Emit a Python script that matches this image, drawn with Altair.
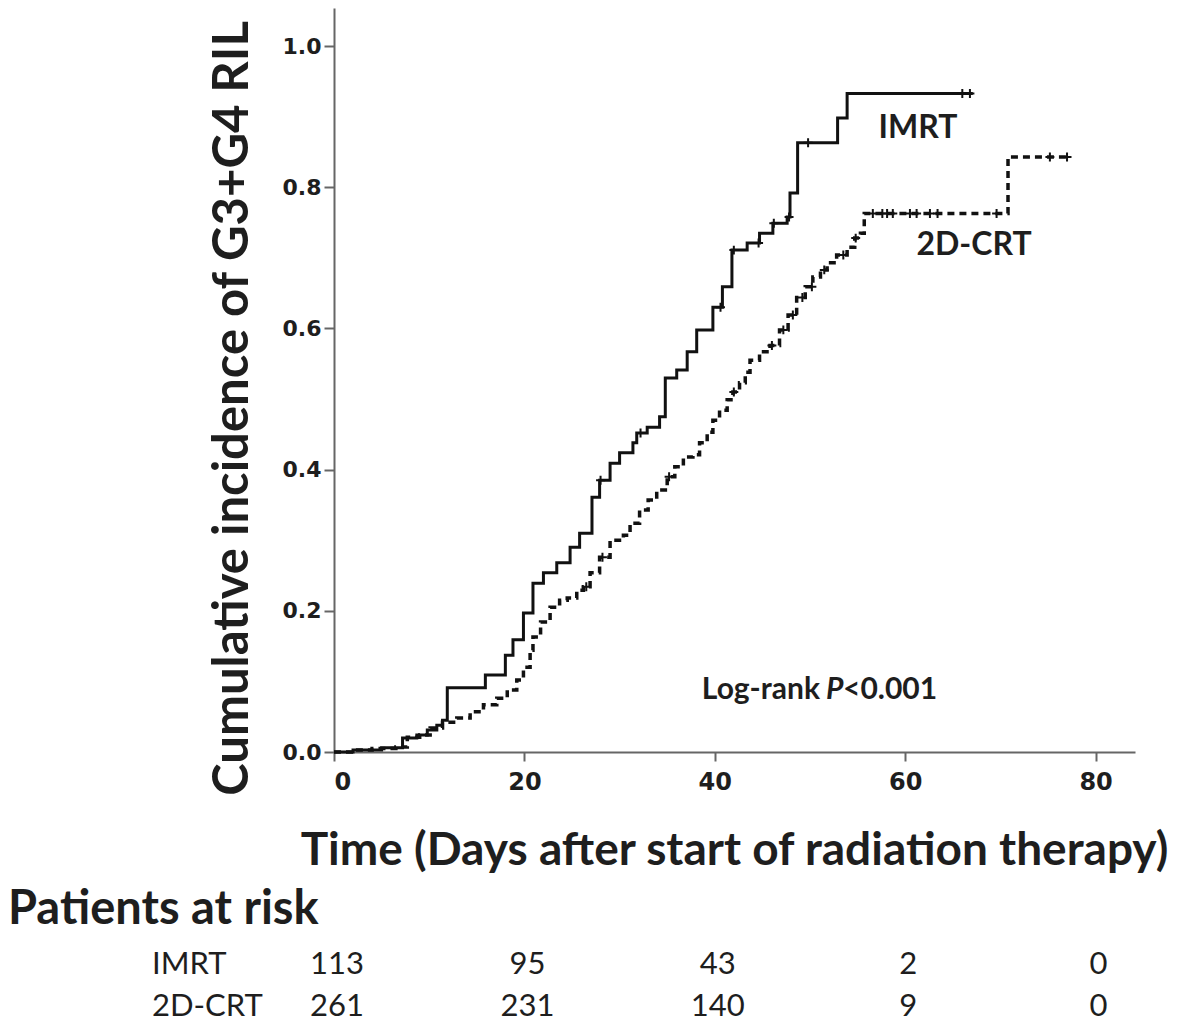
import altair as alt
import pandas as pd
import numpy as np

# ---- data ----
imrt_time = [0, 2, 5, 7.2, 8.7, 9.8, 10.8, 11.4, 11.9, 15.9, 18.0, 18.8, 19.9, 20.9, 22.0,
             23.4, 24.8, 25.8, 27.1, 27.9, 29.0, 30.0, 31.4, 31.8, 32.9, 34.2, 34.8, 36.0,
             37.1, 38.1, 39.8, 40.8, 41.8, 43.4, 44.7, 46.1, 47.6, 47.9, 48.7, 52.9, 53.9, 67.1]
imrt_cum = [0, 0.003, 0.006, 0.02, 0.024, 0.031, 0.038, 0.045, 0.091, 0.109, 0.137, 0.159,
            0.197, 0.239, 0.254, 0.268, 0.29, 0.31, 0.361, 0.385, 0.409, 0.424, 0.438, 0.452,
            0.46, 0.475, 0.53, 0.541, 0.567, 0.598, 0.63, 0.659, 0.711, 0.721, 0.735, 0.749,
            0.758, 0.792, 0.863, 0.898, 0.933, 0.933]

crt_time = [0, 2, 4, 6.5, 7.7, 9.0, 10.1, 11.4, 12.9, 14.3, 15.7, 17.1, 18.2, 19.2, 19.9,
            20.6, 20.9, 21.7, 22.7, 23.7, 24.5, 25.5, 26.2, 26.9, 27.9, 29.0, 30.4, 31.1,
            32.1, 33.0, 33.9, 35.0, 35.8, 36.7, 37.7, 38.4, 39.2, 39.8, 40.5, 41.3, 41.9,
            42.6, 43.2, 43.7, 44.7, 45.8, 46.8, 47.7, 48.6, 49.5, 50.3, 51.1, 51.8, 52.8,
            53.9, 54.7, 55.3, 55.7, 70.8, 77.0]
crt_cum = [0, 0.003, 0.005, 0.007, 0.021, 0.024, 0.034, 0.042, 0.048, 0.057, 0.067, 0.076,
           0.088, 0.102, 0.12, 0.144, 0.163, 0.184, 0.205, 0.215, 0.218, 0.229, 0.234, 0.254,
           0.276, 0.3, 0.307, 0.324, 0.343, 0.357, 0.371, 0.39, 0.404, 0.418, 0.421, 0.438,
           0.453, 0.47, 0.484, 0.499, 0.51, 0.523, 0.538, 0.555, 0.567, 0.576, 0.598, 0.619,
           0.644, 0.659, 0.673, 0.683, 0.693, 0.704, 0.715, 0.728, 0.735, 0.763, 0.843, 0.843]

imrt_censor_time = [28.0, 32.2, 40.6, 42.0, 44.6, 46.2, 47.8, 49.8, 66.0, 66.8]
crt_censor_time = [26.5, 28.2, 35.2, 42.0, 46.0, 47.2, 48.2, 49.2, 50.2, 51.5, 53.5, 54.8,
                   56.6, 57.6, 58.1, 58.7, 60.5, 61.2, 62.6, 63.4, 69.6, 75.2, 77.0]

x_ticks = [0, 20, 40, 60, 80]
y_ticks = [0.0, 0.2, 0.4, 0.6, 0.8, 1.0]

risk_times = [0, 20, 40, 60, 80]
imrt_at_risk = [113, 95, 43, 2, 0]
crt_at_risk = [261, 231, 140, 9, 0]


def step_lookup(times, vals, ts):
    idx = np.searchsorted(np.array(times), np.array(ts), side="right") - 1
    return [vals[i] for i in idx]


imrt_df = pd.DataFrame({"time": imrt_time, "cum": imrt_cum})
crt_df = pd.DataFrame({"time": crt_time, "cum": crt_cum})
imrt_c = pd.DataFrame({"time": imrt_censor_time,
                       "cum": step_lookup(imrt_time, imrt_cum, imrt_censor_time)})
crt_c = pd.DataFrame({"time": crt_censor_time,
                      "cum": step_lookup(crt_time, crt_cum, crt_censor_time)})
risk_imrt = pd.DataFrame({"time": risk_times, "n": imrt_at_risk})
risk_crt = pd.DataFrame({"time": risk_times, "n": crt_at_risk})

W, H = 801, 744
xscale = alt.Scale(domain=[0, 84.14], nice=False, zero=False)
yscale = alt.Scale(domain=[0, 1.054], nice=False, zero=False)

AX = "#666666"
TXT = "#1e1e1e"

x_axis = alt.Axis(values=x_ticks, format="d", grid=False,
                  domainColor=AX, domainWidth=2, tickColor=AX, tickWidth=2, tickSize=9,
                  labelFont="DejaVu Sans", labelFontWeight="bold", labelFontSize=24,
                  labelColor=TXT, labelPadding=9,
                  title="Time (Days after start of radiation therapy)",
                  titleFont="Lato", titleFontWeight="bold", titleFontSize=46,
                  titleColor=TXT, titleX=400, titleY=98, titleAlign="center",
                  titleBaseline="middle")
y_axis = alt.Axis(values=y_ticks, format=".1f", grid=False,
                  domainColor=AX, domainWidth=2, tickColor=AX, tickWidth=2, tickSize=10,
                  labelFont="DejaVu Sans", labelFontWeight="bold", labelFontSize=22,
                  labelColor=TXT, labelPadding=3,
                  title="Cumulative incidence of G3+G4 RIL",
                  titleFont="Lato", titleFontWeight="bold", titleFontSize=49,
                  titleColor=TXT, titleAngle=270, titleX=-102, titleY=400,
                  titleAlign="center", titleBaseline="middle")

X = alt.X("time:Q", scale=xscale, axis=x_axis)
Y = alt.Y("cum:Q", scale=yscale, axis=y_axis)

imrt_line = alt.Chart(imrt_df).mark_line(
    interpolate="step-after", color="#111111", strokeWidth=3
).encode(x=X, y=Y)

crt_line = alt.Chart(crt_df).mark_line(
    interpolate="step-after", color="#111111", strokeWidth=3.5, strokeDash=[7, 5]
).encode(x=X, y=Y)

plus = "M-1,0L1,0M0,-1L0,1"
imrt_pts = alt.Chart(imrt_c).mark_point(
    shape=plus, filled=False, size=80, strokeWidth=2, color="#111111", opacity=1
).encode(x=X, y=Y)
crt_pts = alt.Chart(crt_c).mark_point(
    shape=plus, filled=False, size=80, strokeWidth=2, color="#111111", opacity=1
).encode(x=X, y=Y)

one = pd.DataFrame({"a": [0]})


def label(text, x, y, size, weight="bold", align="center", style="normal", baseline="middle"):
    return alt.Chart(one).mark_text(
        text=text, font="Lato", fontSize=size, fontWeight=weight, fontStyle=style,
        align=align, baseline=baseline, color=TXT
    ).encode(x=alt.value(x), y=alt.value(y))


lab_imrt = label("IMRT", 584, 120, 32)
lab_crt = label("2D-CRT", 640, 237, 32)
lab_lr1 = label("Log-rank", 486, 682, 30, align="right")
lab_lr2 = label("P", 492, 682, 30, align="left", style="italic")
lab_lr3 = label("<0.001", 509, 682, 30, align="left")

lab_par = label("Patients at risk", -326, 902, 47, align="left")
lab_r1 = label("IMRT", -182, 957, 31, weight="normal", align="left")
lab_r2 = label("2D-CRT", -182, 999, 31, weight="normal", align="left")

num1 = alt.Chart(risk_imrt).mark_text(
    font="Lato", fontSize=31, align="center", baseline="middle", color=TXT, dx=3
).encode(x=X, y=alt.value(957), text="n:Q")
num2 = alt.Chart(risk_crt).mark_text(
    font="Lato", fontSize=31, align="center", baseline="middle", color=TXT, dx=3
).encode(x=X, y=alt.value(999), text="n:Q")

chart = alt.layer(
    imrt_line, crt_line, imrt_pts, crt_pts,
    lab_imrt, lab_crt, lab_lr1, lab_lr2, lab_lr3,
    lab_par, lab_r1, lab_r2, num1, num2
).properties(
    width=W, height=H,
    autosize=alt.AutoSizeParams(type="none"),
    padding={"left": 326, "top": 0, "right": 38, "bottom": 275},
    background="white"
).configure_view(stroke=None)

chart.save("out.html", embed_options={"renderer": "svg", "actions": False})
